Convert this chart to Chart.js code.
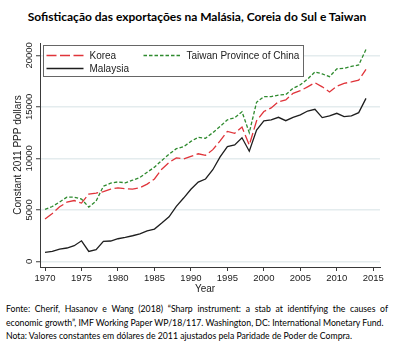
<!DOCTYPE html>
<html>
<head>
<meta charset="utf-8">
<script src="https://cdn.jsdelivr.net/npm/chart.js@4"></script>
<style>
  body { margin: 0; background: #fff; width: 394px; height: 346px; overflow: hidden; position: relative; }
  #titulo { position: absolute; top: 9px; left: 0; width: 394px; text-align: center;
    font: bold 12px Lato, sans-serif; color: #000; }
  #grafico { position: absolute; top: 0; left: 0; }
  #fonte { position: absolute; top: 302px; left: 6px; width: 382px;
    font: 8.7px Lato, sans-serif; line-height: 13.5px; color: #000; white-space: nowrap; }
  #fonte .j { text-align: justify; text-align-last: justify; white-space: normal; }
</style>
</head>
<body>
<div id="titulo">Sofisticação das exportações na Malásia, Coreia do Sul e Taiwan</div>
<canvas id="grafico" width="394" height="300"></canvas>
<div id="fonte">
  <div class="j">Fonte: Cherif, Hasanov e Wang (2018) “Sharp instrument: a stab at identifying the causes of</div>
  <div>economic growth”, IMF Working Paper WP/18/117. Washington, DC: International Monetary Fund.</div>
  <div>Nota: Valores constantes em dólares de 2011 ajustados pela Paridade de Poder de Compra.</div>
</div>
<script>
years = [1970,1971,1972,1973,1974,1975,1976,1977,1978,1979,
         1980,1981,1982,1983,1984,1985,1986,1987,1988,1989,
         1990,1991,1992,1993,1994,1995,1996,1997,1998,1999,
         2000,2001,2002,2003,2004,2005,2006,2007,2008,2009,
         2010,2011,2012,2013,2014]

korea = [4110,4650,5300,5750,5910,5660,6540,6630,6770,7020,
         7140,7060,7010,7140,7500,8000,8950,9600,10050,9950,
         10200,10450,10300,10850,11700,12620,12440,13050,11300,13650,
         14550,14900,15500,15670,16320,16570,16950,17350,16950,16450,
         17000,17290,17420,17600,18640]

taiwan = [5050,5330,5770,6240,6240,6050,5270,5860,7300,7600,
          7720,7630,7880,8150,8650,9150,9800,10400,10950,11140,
          11650,12050,11960,12500,13100,13750,13950,14530,12500,15450,
          16000,16000,16150,16200,16800,17150,17700,18400,18200,17930,
          18700,18740,18930,19070,20580]

malaysia = [870,970,1200,1300,1520,2000,970,1130,1940,1980,
            2200,2330,2490,2680,2970,3140,3720,4330,5350,6150,
            7000,7700,8000,8900,10150,11150,11300,12000,10700,12750,
            13650,13730,13990,13660,13990,14220,14600,14770,13960,14120,
            14380,14050,14120,14440,15830]

xTicks = [1970,1975,1980,1985,1990,1995,2000,2005,2010,2015]
yTicks = [0,5000,10000,15000,20000]

eixo = '#3a3a3a'

function pts(vals){ return years.map((yr,i)=>({x: yr, y: vals[i]})) }

// tick labels (y ones rotated, Stata style), x title and the legend box
const extras = {
  id: 'extras',
  afterDraw(chart){
    const ctx = chart.ctx
    const ca = chart.chartArea
    const xs = chart.scales.x, ys = chart.scales.y
    ctx.save()
    ctx.fillStyle = '#222'
    ctx.font = '9.5px "Liberation Sans"'
    ctx.textAlign = 'center'
    ctx.textBaseline = 'middle'
    yTicks.forEach(v=>{
      ctx.save()
      ctx.translate(29, ys.getPixelForValue(v))
      ctx.rotate(-Math.PI/2)
      ctx.fillText(String(v), 0, 0)
      ctx.restore()
    })
    xTicks.forEach(v=>{
      ctx.fillText(String(v), xs.getPixelForValue(v), ca.bottom + 11.5)
    })
    ctx.font = '10px "Liberation Sans"'
    ctx.fillText('Year', ca.left + 165, ca.bottom + 22)

    // legend
    const bx = ca.left + 3.5, by = ca.top + 2.5
    ctx.fillStyle = '#fff'
    ctx.fillRect(bx, by, 260, 31)
    ctx.strokeStyle = '#666'
    ctx.lineWidth = 1
    ctx.strokeRect(bx, by, 260, 31)
    const slots = [[bx+3, by+10], [bx+100, by+10], [bx+3, by+23]]
    ctx.textAlign = 'left'
    chart.data.datasets.forEach((ds,i)=>{
      const [sx, sy] = slots[i]
      ctx.beginPath()
      ctx.setLineDash(ds.borderDash || [])
      ctx.strokeStyle = ds.borderColor
      ctx.lineWidth = ds.borderWidth
      ctx.moveTo(sx, sy)
      ctx.lineTo(sx+37, sy)
      ctx.stroke()
      ctx.setLineDash([])
      ctx.fillStyle = '#222'
      ctx.fillText(ds.label, sx+43, sy+0.5)
    })
    ctx.restore()
  }
}

chart = new Chart(document.getElementById('grafico'), {
  type: 'line',
  data: {
    datasets: [
      {label: 'Korea', data: pts(korea), borderColor: '#e0343a', borderWidth: 1.3, borderDash: [10,3.5], pointRadius: 0, tension: 0},
      {label: 'Taiwan Province of China', data: pts(taiwan), borderColor: '#2e8a2e', borderWidth: 1.3, borderDash: [3.5,2], pointRadius: 0, tension: 0},
      {label: 'Malaysia', data: pts(malaysia), borderColor: '#1e1e1e', borderWidth: 1.3, pointRadius: 0, tension: 0}
    ]
  },
  options: {
    responsive: false,
    animation: false,
    layout: {padding: {top: 43, right: 14, left: 0, bottom: 4}},
    plugins: {legend: {display: false}, tooltip: {enabled: false}},
    scales: {
      x: {
        type: 'linear',
        min: 1969.31,
        max: 2015.92,
        afterBuildTicks: s => { s.ticks = xTicks.map(v=>({value: v})) },
        afterFit: s => { s.height = 29 },
        grid: {drawOnChartArea: false, tickLength: 4, tickColor: eixo},
        border: {color: eixo},
        ticks: {display: false}
      },
      y: {
        min: -544,
        max: 21204,
        afterBuildTicks: s => { s.ticks = yTicks.map(v=>({value: v})) },
        afterFit: s => { s.width = 40 },
        grid: {color: '#e4ecee', lineWidth: 1.5, tickLength: 4, tickColor: eixo, tickWidth: 1},
        border: {color: eixo},
        ticks: {display: false},
        title: {display: true, text: 'Constant 2011 PPP dollars', font: {family: 'Liberation Sans', size: 10}, color: '#222', padding: {top: 12, bottom: 0}}
      }
    }
  },
  plugins: [extras]
})
</script>
</body>
</html>
